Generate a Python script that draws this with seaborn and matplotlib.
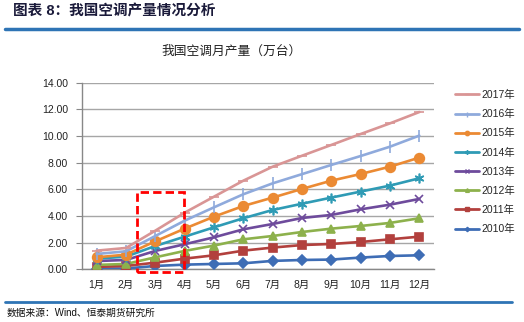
import numpy as np
import pandas as pd
import matplotlib
matplotlib.use("Agg")
import matplotlib.pyplot as plt
import seaborn as sns
from matplotlib.patches import Rectangle
from matplotlib.lines import Line2D

months = ["1月", "2月", "3月", "4月", "5月", "6月", "7月", "8月", "9月", "10月", "11月", "12月"]
years = ["2010年", "2011年", "2012年", "2013年", "2014年", "2015年", "2016年", "2017年"]
y2010 = [0.05, 0.06, 0.25, 0.35, 0.40, 0.45, 0.63, 0.70, 0.73, 0.88, 1.00, 1.05]
y2011 = [0.18, 0.25, 0.50, 0.80, 1.05, 1.40, 1.63, 1.82, 1.90, 2.05, 2.25, 2.45]
y2012 = [0.33, 0.40, 0.90, 1.38, 1.78, 2.25, 2.50, 2.80, 3.05, 3.25, 3.48, 3.83]
y2013 = [0.62, 0.70, 1.38, 1.88, 2.40, 3.00, 3.40, 3.85, 4.08, 4.50, 4.85, 5.28]
y2014 = [0.80, 0.95, 1.75, 2.45, 3.15, 3.83, 4.45, 4.92, 5.38, 5.83, 6.28, 6.83]
y2015 = [0.90, 1.10, 2.10, 3.05, 3.95, 4.75, 5.38, 6.03, 6.65, 7.15, 7.70, 8.38]
y2016 = [1.15, 1.35, 2.50, 3.65, 4.65, 5.63, 6.45, 7.14, 7.83, 8.50, 9.20, 10.03]
y2017 = [1.40, 1.60, 2.90, 4.25, 5.45, 6.65, 7.70, 8.52, 9.33, 10.15, 10.95, 11.80]
series = [y2010, y2011, y2012, y2013, y2014, y2015, y2016, y2017]
yticks = [0, 2, 4, 6, 8, 10, 12, 14]

colors = ["#3E6DB5", "#B2403D", "#8DB14C", "#6E4B9C", "#2F9BB5", "#EB8A33", "#8FAADC", "#D99595"]
markers = ["D", "s", "^", "x", (6, 2, 0), "o", "|", "_"]
msizes = [5, 6, 6, 6, 7, 7, 8, 7]

sns.set_style("white")
plt.rcParams["font.family"] = ["Liberation Sans", "Noto Sans CJK SC"]

fig = plt.figure(figsize=(5.24, 3.22), dpi=100)
ax = fig.add_axes([82 / 524, 1 - 269.3 / 322, 352 / 524, 186.6 / 322])

rows = []
for yr, vals in zip(years, series):
    for i, v in enumerate(vals):
        rows.append({"year": yr, "idx": i, "value": v})
df = pd.DataFrame(rows)

for k, yr in enumerate(years):
    sns.lineplot(data=df[df["year"] == yr], x="idx", y="value", ax=ax, color=colors[k],
                 marker=markers[k], markersize=msizes[k], markeredgecolor=colors[k],
                 markeredgewidth=1.2, linewidth=1.9, legend=False, zorder=3)

ax.set_xlim(-0.5, 11.5)
ax.set_ylim(0, 14)
ax.set_yticks(yticks)
ax.set_yticklabels([f"{t:.2f}" for t in yticks], fontsize=7.5, color="#222222")
ax.set_xticks(range(12))
ax.set_xticklabels(months, fontsize=7.5, color="#222222")
ax.set_xticks(np.arange(-0.5, 12, 1), minor=True)
ax.tick_params(axis="x", which="major", length=0, pad=8)
ax.tick_params(axis="x", which="minor", length=4, color="#888888", direction="out")
ax.tick_params(axis="y", which="major", length=4, color="#888888", direction="out", left=True, pad=6)
ax.set_xlabel("")
ax.set_ylabel("")
ax.grid(axis="y", color="#A6A6A6", linewidth=1.0)
ax.set_axisbelow(True)
for s in ["top", "right"]:
    ax.spines[s].set_visible(False)
for s in ["left", "bottom"]:
    ax.spines[s].set_color("#888888")
    ax.spines[s].set_linewidth(1.0)

rect = Rectangle((1.39, -0.18), 1.59, 6.0, fill=False, edgecolor="#FF0000",
                 linestyle=(0, (3, 1.5)), linewidth=2.0, clip_on=False, zorder=10)
ax.add_patch(rect)

handles = [Line2D([0], [0], color=colors[k], marker=markers[k], markersize=msizes[k] * 0.45,
                  markeredgecolor=colors[k], linewidth=2.0) for k in range(len(years))]
fig.legend(handles[::-1], years[::-1], loc="upper left", bbox_to_anchor=(455 / 524, 1 - 90 / 322),
           frameon=False, fontsize=7.5, handlelength=2.3, labelspacing=0.87, handletextpad=0.2,
           borderpad=0, borderaxespad=0)

fig.text(232 / 524, 1 - 52 / 322, "我国空调月产量（万台）", ha="center", va="center",
         fontsize=9.2, color="#222222")
fig.text(13 / 524, 1 - 11 / 322, "图表 8：我国空调产量情况分析", ha="left", va="center",
         fontsize=10.5, fontweight="bold", color="#1a1a3a")
fig.add_artist(Line2D([5 / 524, 519 / 524], [1 - 28.5 / 322, 1 - 28.5 / 322], color="#2E74B5",
                      linewidth=2.5, transform=fig.transFigure))
fig.add_artist(Line2D([5 / 524, 512 / 524], [1 - 301.5 / 322, 1 - 301.5 / 322], color="#2E74B5",
                      linewidth=2.0, transform=fig.transFigure))
fig.text(7 / 524, 1 - 313 / 322, "数据来源：Wind、恒泰期货研究所", ha="left", va="center",
         fontsize=7, color="#111111")

fig.savefig("out.png", dpi=100)
